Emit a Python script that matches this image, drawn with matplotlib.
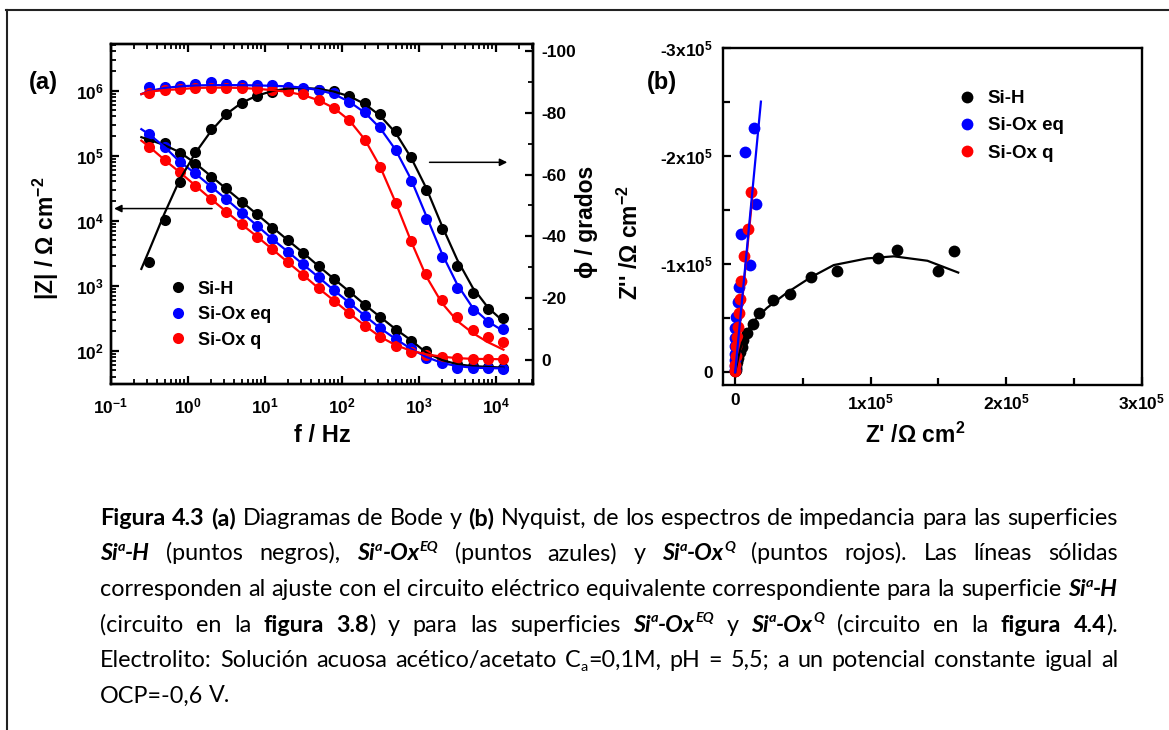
import re
import numpy as np
import matplotlib
matplotlib.use("Agg")
import matplotlib.pyplot as plt
from matplotlib.ticker import LogLocator, MultipleLocator, FixedLocator, FuncFormatter, NullFormatter
from matplotlib.lines import Line2D

plt.rcParams['font.family'] = ['Liberation Sans', 'DejaVu Sans']
plt.rcParams['font.weight'] = 'bold'
plt.rcParams['mathtext.fontset'] = 'custom'
plt.rcParams['mathtext.rm'] = 'Liberation Sans:bold'
plt.rcParams['mathtext.bf'] = 'Liberation Sans:bold'
plt.rcParams['mathtext.it'] = 'Liberation Sans:bold:italic'
plt.rcParams['mathtext.default'] = 'rm'
plt.rcParams['axes.unicode_minus'] = False

# ---- data: Bode (a) ----
freq = [0.316, 0.501, 0.794, 1.26, 2.00, 3.16, 5.01, 7.94, 12.6, 20.0, 31.6, 50.1,
        79.4, 126, 200, 316, 501, 794, 1260, 2000, 3160, 5010, 7940, 12600]
z_h = [1.78e5, 1.55e5, 1.09e5, 7.45e4, 4.75e4, 3.15e4, 1.96e4, 1.25e4, 7.8e3, 5.05e3,
       3.22e3, 2.01e3, 1.27e3, 809, 505, 327, 208, 140, 98, 69, 62, 57.5, 56, 55]
z_eq = [2.16e5, 1.35e5, 7.91e4, 5.36e4, 3.33e4, 2.16e4, 1.33e4, 8.38e3, 5.22e3, 3.33e3,
        2.13e3, 1.35e3, 849, 547, 345, 221, 150, 109, 76.4, 64, 54.7, 53.6, 53.6, 52.2]
z_q = [1.37e5, 8.59e4, 5.5e4, 3.46e4, 2.16e4, 1.38e4, 8.79e3, 5.68e3, 3.63e3, 2.29e3,
       1.46e3, 912, 589, 376, 243, 164, 119, 96.6, 85.9, 79.1, 76.4, 74.5, 74.5, 73.6]
ph_h = [-31.8, -45.3, -57.7, -67.3, -74.6, -79.5, -83.2, -85.4, -86.6, -87.5, -87.8, -87.2,
        -87.0, -85.5, -83.2, -79.5, -74.1, -65.7, -55.0, -42.3, -30.6, -21.8, -16.4, -13.7]
ph_eq = [-88.4, -88.4, -88.6, -89.2, -89.8, -89.2, -89.0, -88.8, -88.8, -88.4, -88.1, -87.3,
         -86.3, -83.5, -80.3, -75.5, -68.0, -58.0, -45.6, -33.4, -23.3, -16.3, -12.2, -10.2]
ph_q = [-86.5, -87.3, -87.6, -88.1, -88.1, -88.1, -87.9, -87.6, -87.3, -87.0, -85.9, -84.1,
        -81.6, -77.6, -71.2, -62.3, -50.9, -38.5, -27.7, -19.6, -13.8, -9.8, -7.5, -5.8]

# fitted curves
fit_freq = [0.25] + freq
fz_h = [1.92e5, 1.75e5, 1.45e5, 1.12e5, 7.6e4, 4.85e4, 3.1e4, 1.97e4, 1.25e4, 7.9e3, 5.0e3,
        3.2e3, 2.0e3, 1.27e3, 810, 510, 330, 215, 145, 93, 72, 62, 58, 56.5, 55]
fz_eq = [2.55e5, 2.12e5, 1.36e5, 8.0e4, 5.3e4, 3.35e4, 2.15e4, 1.34e4, 8.4e3, 5.2e3, 3.33e3,
         2.12e3, 1.35e3, 850, 545, 345, 222, 152, 107, 80, 65, 58, 55, 54, 53.5]
fz_q = [1.7e5, 1.37e5, 8.6e4, 5.5e4, 3.46e4, 2.16e4, 1.38e4, 8.8e3, 5.7e3, 3.63e3, 2.29e3,
        1.46e3, 912, 590, 376, 243, 164, 122, 100, 88, 81, 77, 75, 74.5, 74]
fph_h = [-29.5, -35.5, -47.5, -58.5, -67.0, -74.0, -79.5, -83.2, -85.5, -87.0, -87.8, -88.0,
         -87.7, -86.8, -85.3, -82.8, -79.0, -73.5, -65.5, -55.5, -43.5, -32.5, -23.5, -17.0, -12.5]
fph_eq = [-86.0, -87.0, -88.0, -88.5, -88.8, -88.9, -88.9, -88.9, -88.8, -88.7, -88.5, -88.1,
          -87.3, -86.0, -83.5, -80.0, -75.0, -68.0, -58.5, -46.5, -34.5, -24.5, -17.0, -12.5, -9.4]
fph_q = [-86.0, -86.8, -87.3, -87.6, -88.0, -88.1, -88.1, -88.0, -87.7, -87.3, -86.7, -85.7,
         -84.0, -81.5, -77.5, -71.3, -62.5, -51.0, -38.5, -27.0, -18.5, -12.7, -8.8, -5.8, -3.4]

# ---- data: Nyquist (b) ----
nyq_h_re = [1.616e5, 1.500e5, 1.194e5, 1.053e5, 7.55e4, 5.62e4, 4.07e4, 2.81e4, 1.79e4, 1.28e4,
            8.6e3, 6.1e3, 4.9e3, 3.6e3, 2.4e3, 1.5e3, 900, 500, 250, 120]
nyq_h_im = [-1.118e5, -9.31e4, -1.133e5, -1.055e5, -9.31e4, -8.80e4, -7.25e4, -6.69e4, -5.44e4,
            -4.48e4, -3.66e4, -2.98e4, -2.36e4, -1.85e4, -1.35e4, -9.5e3, -6.5e3, -4.0e3, -2.2e3, -1.0e3]
nyq_eq_re = [1.36e4, 6.9e3, 1.53e4, 4.2e3, 1.08e4, 3.1e3, 1.9e3, 700, 200, 100, 100, 50, 50, 0, 0]
nyq_eq_im = [-2.255e5, -2.034e5, -1.557e5, -1.28e5, -9.9e4, -7.9e4, -6.45e4, -5.1e4, -4.07e4,
             -3.2e4, -2.4e4, -1.7e4, -1.1e4, -6e3, -2e3]
nyq_q_re = [1.19e4, 9.2e3, 6.7e3, 4.6e3, 3.2e3, 2.5e3, 1.8e3, 1.2e3, 800, 400, 150, 0]
nyq_q_im = [-1.662e5, -1.323e5, -1.07e5, -8.45e4, -6.75e4, -5.5e4, -4.22e4, -3.3e4, -2.4e4,
            -1.5e4, -7e3, -1.5e3]
fit_h_re = [0, 2.4e3, 4.9e3, 8.6e3, 1.35e4, 2.34e4, 3.82e4, 5.55e4, 7.27e4, 9.75e4, 1.172e5, 1.419e5, 1.646e5]
fit_h_im = [0, -1.42e4, -2.67e4, -3.76e4, -4.69e4, -5.94e4, -7.35e4, -8.75e4, -9.9e4, -1.052e5,
            -1.071e5, -1.03e5, -9.21e4]
fit_eq_re = [0, 1.9e4]
fit_eq_im = [0, -2.5e5]
fit_q_re = [0, 1.31e4]
fit_q_im = [0, -1.67e5]

labels = ['Si-H', 'Si-Ox eq', 'Si-Ox q']
colors = ['#000000', '#0000ff', '#ff0000']

W, H = 1169, 730
fig = plt.figure(figsize=(W / 100, H / 100), dpi=100)

def fbox(x0, y0, x1, y1):
    return [x0 / W, 1 - y1 / H, (x1 - x0) / W, (y1 - y0) / H]

# ---------------- (a) Bode ----------------
ax = fig.add_axes(fbox(110.7, 44, 533, 384))
ax2 = ax.twinx()
ms = 8
for zd, zf, c, lab in zip([z_h, z_eq, z_q], [fz_h, fz_eq, fz_q], colors, labels):
    ax.plot(freq, zd, 'o', ls='none', ms=ms, mec='none', color=c, label=lab, zorder=3)
    ax.plot(fit_freq, zf, '-', lw=1.6, color=c, zorder=4)
for pd_, pf, c in zip([ph_h, ph_eq, ph_q], [fph_h, fph_eq, fph_q], colors):
    ax2.plot(freq, pd_, 'o', ls='none', ms=ms, mec='none', color=c, zorder=3)
    ax2.plot(fit_freq, pf, '-', lw=1.6, color=c, zorder=4)

ax.set_xscale('log')
ax.set_yscale('log')
ax.set_xlim(0.1, 3.05e4)
ax.set_ylim(30.8, 5.2e6)
ax2.set_ylim(7.7, -102.2)

pow_fmt = FuncFormatter(lambda v, p: '10$^{%d}$' % int(round(np.log10(v))))
for a in (ax.xaxis, ax.yaxis):
    a.set_major_locator(LogLocator(base=10, numticks=20))
    a.set_minor_locator(LogLocator(base=10, subs=np.arange(2, 10), numticks=20))
    a.set_major_formatter(pow_fmt)
    a.set_minor_formatter(NullFormatter())
ax2.yaxis.set_major_locator(MultipleLocator(20))
ax2.yaxis.set_minor_locator(MultipleLocator(10))
ax2.yaxis.set_major_formatter(FuncFormatter(lambda v, p: '%d' % v))

ax.tick_params(which='both', direction='in', top=True, right=False, labelsize=12.5)
ax.tick_params(which='major', length=6, width=1.6)
ax.tick_params(which='minor', length=3.5, width=1.3)
ax.tick_params(axis='x', pad=9)
ax.tick_params(axis='y', pad=5)
ax2.tick_params(which='both', direction='in', labelsize=12.5, pad=6)
ax2.tick_params(which='major', length=6, width=1.6)
ax2.tick_params(which='minor', length=3.5, width=1.3)
for a in (ax, ax2):
    for s in a.spines.values():
        s.set_linewidth(1.7)

ax.legend(loc='upper left', bbox_to_anchor=(0.133, 0.304), frameon=False, fontsize=13,
          handletextpad=0.5, labelspacing=0.47, handlelength=1.2, borderpad=0, borderaxespad=0)

ax.annotate('', xy=(0.008, 0.516), xytext=(0.240, 0.516), xycoords='axes fraction',
            arrowprops=dict(arrowstyle='-|>', color='k', lw=1.1, mutation_scale=11, shrinkA=0, shrinkB=0))
ax.annotate('', xy=(0.939, 0.652), xytext=(0.755, 0.652), xycoords='axes fraction',
            arrowprops=dict(arrowstyle='-|>', color='k', lw=1.1, mutation_scale=11, shrinkA=0, shrinkB=0))

fig.text(43 / W, 1 - 82 / H, '(a)', fontsize=17, ha='center', va='center')
fig.text(46 / W, 1 - 238 / H, '|Z| / \u03a9 cm$^{-2}$', fontsize=16.5, rotation=90, ha='center', va='center')
fig.text(322 / W, 1 - 435 / H, 'f / Hz', fontsize=17, ha='center', va='center')
fig.text(587 / W, 1 - 222 / H, '\u03d5 / grados', fontsize=16.5, rotation=90, ha='center', va='center')

# ---------------- (b) Nyquist ----------------
bx = fig.add_axes(fbox(722.7, 47.5, 1141.7, 384.5))
msn = 8.5
for re_, im_, c, lab in zip([nyq_h_re, nyq_eq_re, nyq_q_re], [nyq_h_im, nyq_eq_im, nyq_q_im], colors, labels):
    bx.plot(re_, im_, 'o', ls='none', ms=msn, mec='none', color=c, label=lab, zorder=3)
for re_, im_, c in zip([fit_h_re, fit_q_re, fit_eq_re], [fit_h_im, fit_q_im, fit_eq_im], [colors[0], colors[2], colors[1]]):
    bx.plot(re_, im_, '-', lw=1.6, color=c, zorder=4)

bx.set_xlim(-9200, 3e5)
bx.set_ylim(11300, -3e5)
sci = lambda v, p: '0' if v == 0 else ('%s%dx10$^{5}$' % ('-' if v < 0 else '', abs(round(v / 1e5))))
bx.xaxis.set_major_locator(FixedLocator([0, 1e5, 2e5, 3e5]))
bx.xaxis.set_minor_locator(MultipleLocator(5e4))
bx.yaxis.set_major_locator(FixedLocator([0, -1e5, -2e5, -3e5]))
bx.yaxis.set_minor_locator(MultipleLocator(5e4))
bx.xaxis.set_major_formatter(FuncFormatter(sci))
bx.yaxis.set_major_formatter(FuncFormatter(sci))
bx.tick_params(which='both', direction='in', labelsize=12.5)
bx.tick_params(which='major', length=6, width=1.6)
bx.tick_params(which='minor', length=5, width=1.6)
bx.tick_params(axis='x', pad=6)
bx.tick_params(axis='y', pad=7)
for s in bx.spines.values():
    s.set_linewidth(1.7)

bx.legend(loc='upper left', bbox_to_anchor=(0.556, 0.873), frameon=False, fontsize=13.5,
          handletextpad=0.5, labelspacing=0.53, handlelength=1.2, borderpad=0, borderaxespad=0)

fig.text(662 / W, 1 - 82 / H, '(b)', fontsize=17, ha='center', va='center')
fig.text(630 / W, 1 - 242 / H, "Z'' /\u03a9 cm$^{-2}$", fontsize=16.5, rotation=90, ha='center', va='center')
fig.text(915 / W, 1 - 435 / H, "Z' /\u03a9 cm$^{2}$", fontsize=16.5, ha='center', va='center')

# ---------------- frame ----------------
fig.add_artist(Line2D([6 / W, 1], [1 - 10 / H, 1 - 10 / H], transform=fig.transFigure, color='#222222', lw=1.5))
fig.add_artist(Line2D([7 / W, 7 / W], [0, 1 - 10 / H], transform=fig.transFigure, color='#222222', lw=1.5))

# ---------------- caption (justified) ----------------
caption = [
    "<b>Figura 4.3 (a)</b> Diagramas de Bode y <b>(b)</b> Nyquist, de los espectros de impedancia para las superficies",
    "<bi>Si<sup>a</sup>-H</bi> (puntos negros), <bi>Si<sup>a</sup>-Ox<sup>EQ</sup></bi> (puntos azules) y "
    "<bi>Si<sup>a</sup>-Ox<sup>Q</sup></bi> (puntos rojos). Las líneas sólidas",
    "corresponden al ajuste con el circuito eléctrico equivalente correspondiente para la superficie <bi>Si<sup>a</sup>-H</bi>",
    "(circuito en la <b>figura 3.8</b>) y para las superficies <bi>Si<sup>a</sup>-Ox<sup>EQ</sup></bi> y "
    "<bi>Si<sup>a</sup>-Ox<sup>Q</sup></bi> (circuito en la <b>figura 4.4</b>).",
    "Electrolito: Solución acuosa acético/acetato C<sub>a</sub>=0,1M, pH = 5,5; a un potencial constante igual al",
    "OCP=-0,6 V.",
]
cap_left, cap_right = 100, 1118
cap_base = [525, 560.5, 596, 631.5, 667, 702.5]
cap_font = 'Lato'


def parse(line):
    runs, state = [], set()
    for part in re.split(r'(</?\w+>)', line):
        if not part:
            continue
        m = re.match(r'<(/?)(\w+)>', part)
        if m:
            (state.discard if m.group(1) else state.add)(m.group(2))
        else:
            runs.append((part, frozenset(state)))
    words = [[]]
    for text, st in runs:
        for i, p in enumerate(text.split(' ')):
            if i > 0:
                words.append([])
            if p:
                words[-1].append((p, st))
    return [w for w in words if w]


def props(st, size):
    small = 'sup' in st or 'sub' in st
    return dict(family=cap_font, fontsize=size * (0.62 if small else 1.0),
                fontweight='bold' if ('b' in st or 'bi' in st) else 'normal',
                fontstyle='italic' if 'bi' in st else 'normal')


renderer = fig.canvas.get_renderer()


def width(s, st, size):
    t = fig.text(0, 0, s, **props(st, size))
    w = t.get_window_extent(renderer).width
    t.remove()
    return w


lines = [parse(l) for l in caption]
base_size = 15.0
sp0 = width('a a', frozenset(), base_size) - 2 * width('a', frozenset(), base_size)
nat = []
for ws in lines[:-1]:
    tot = sum(width(s, st, base_size) for w in ws for s, st in w)
    nat.append(tot + (len(ws) - 1) * sp0)
size = base_size * 0.995 * (cap_right - cap_left) / max(nat)
space_w = width('a a', frozenset(), size) - 2 * width('a', frozenset(), size)

for i, ws in enumerate(lines):
    wlist = [[(s, st, width(s, st, size)) for s, st in w] for w in ws]
    tot = sum(r[2] for w in wlist for r in w)
    if i < len(lines) - 1 and len(wlist) > 1:
        gap = (cap_right - cap_left - tot) / (len(wlist) - 1)
    else:
        gap = space_w
    x = cap_left
    for w in wlist:
        for s, st, wd in w:
            y = cap_base[i]
            if 'sup' in st:
                y -= 0.40 * size * 1.389
            if 'sub' in st:
                y += 0.15 * size * 1.389
            fig.text(x / W, 1 - y / H, s, va='baseline', ha='left', **props(st, size))
            x += wd
        x += gap

fig.savefig('out.png', dpi=100)
